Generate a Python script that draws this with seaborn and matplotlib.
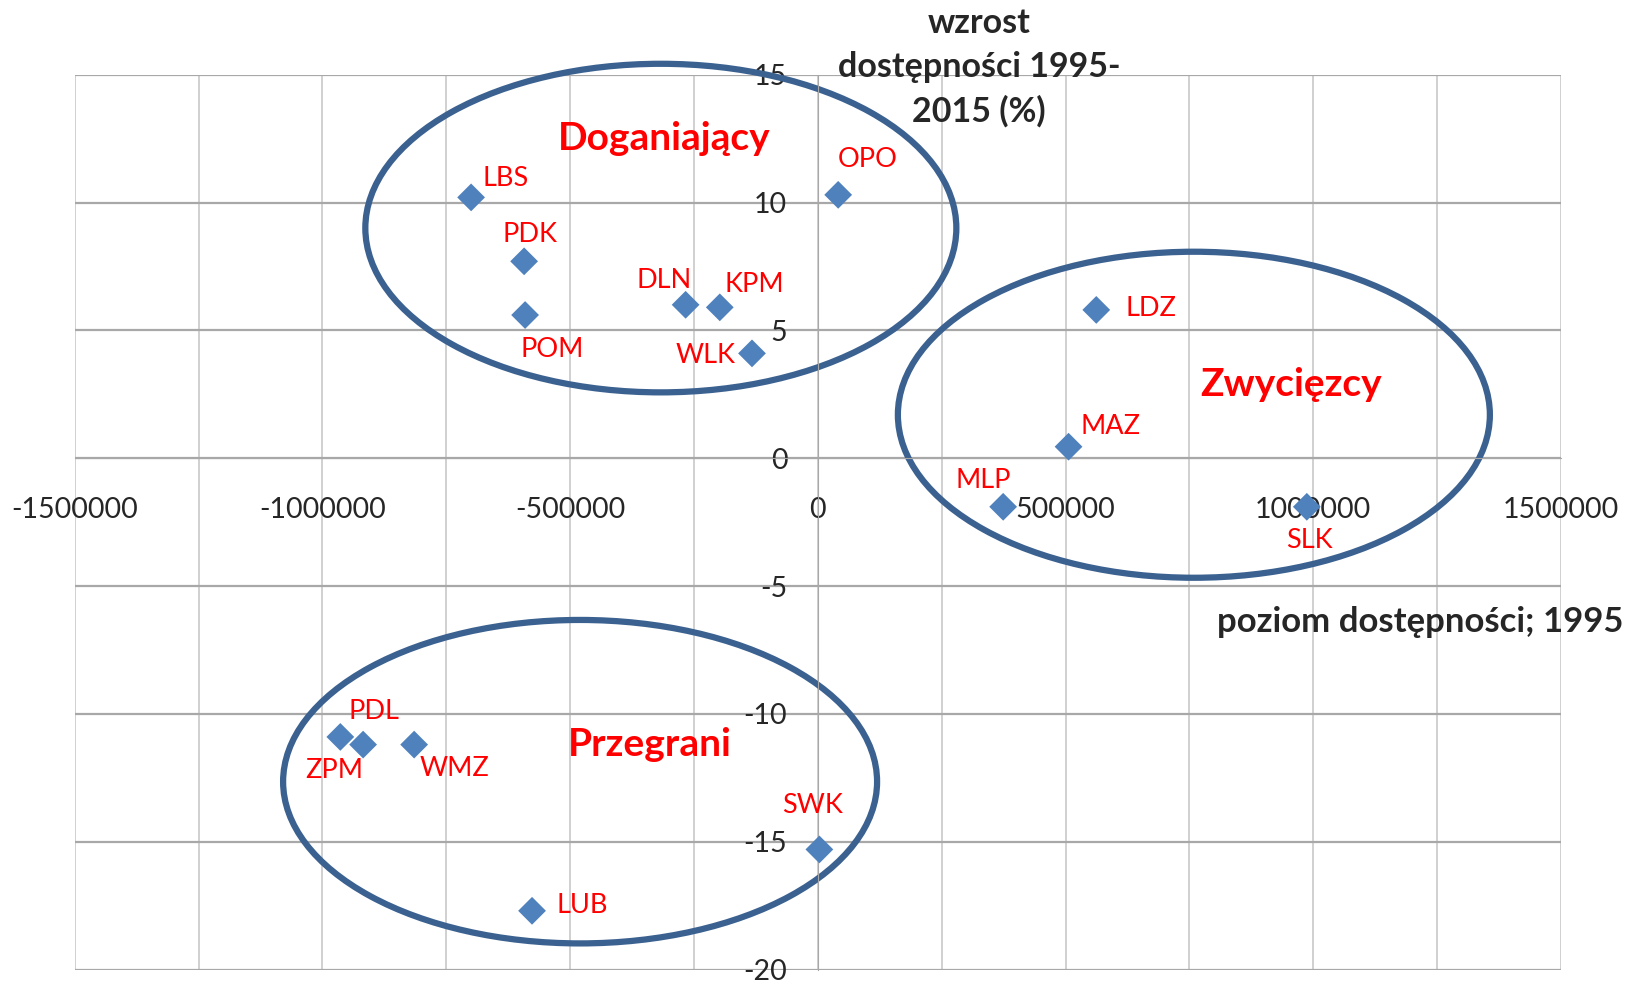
import numpy as np
import pandas as pd
import matplotlib
matplotlib.use("Agg")
import matplotlib.pyplot as plt
import seaborn as sns
from matplotlib.patches import Ellipse

# dane: województwa
regiony = ['LBS', 'PDK', 'POM', 'DLN', 'KPM', 'WLK', 'OPO', 'LDZ', 'MAZ', 'MLP',
           'SLK', 'ZPM', 'PDL', 'WMZ', 'LUB', 'SWK']
poziom_1995 = [-700000, -593000, -591000, -267000, -198000, -133000, 41000, 562000,
               506000, 374000, 987000, -964000, -918000, -815000, -577000, 3000]
wzrost = [10.2, 7.7, 5.6, 6.0, 5.9, 4.1, 10.3, 5.8, 0.45, -1.9, -1.9, -10.9,
          -11.2, -11.2, -17.7, -15.3]

# grupy (elipsy): nazwa, środek x, środek y, szerokość, wysokość
grupy = ['Doganiający', 'Zwycięzcy', 'Przegrani']
grupy_x = [-317000, 759000, -480000]
grupy_y = [9.0, 1.7, -12.65]
grupy_w = [1193000, 1195000, 1199000]
grupy_h = [12.85, 12.75, 12.65]
napis_x = [-311000, 956000, -339000]
napis_y = [12.5, 2.9, -11.2]

# przesunięcia etykiet (punkty)
offsety = [(24.6, 13.4), (4.5, 19.4), (19.4, -24.6), (-15.7, 17.2), (24.6, 16.4),
           (-33.6, -1.5), (20.9, 25.4), (39.6, 0.7), (29.9, 14.2), (-14.2, 18.7),
           (1.5, -24.6), (-4.5, -23.9), (7.5, 23.9), (29.1, -17.2), (35.9, 3.7),
           (-5.2, 31.4)]

df = pd.DataFrame({'region': regiony, 'x': poziom_1995, 'y': wzrost})

sns.set_style('white')
plt.rcParams['font.family'] = ['Lato', 'DejaVu Sans']
plt.rcParams['axes.unicode_minus'] = False

fig = plt.figure(figsize=(16.26, 9.81), dpi=100)
ax = fig.add_axes([0.046, 0.0116, 0.914, 0.9123])

sns.scatterplot(data=df, x='x', y='y', marker='D', s=200, color='#4f81bd',
                edgecolor='none', ax=ax, zorder=3)

for r, x, y, off in zip(regiony, poziom_1995, wzrost, offsety):
    ax.annotate(r, (x, y), xytext=off, textcoords='offset points', ha='center',
                va='center', color='#ff0000', fontsize=19.5, zorder=4)

for g, cx, cy, w, h, tx, ty in zip(grupy, grupy_x, grupy_y, grupy_w, grupy_h, napis_x, napis_y):
    ax.add_patch(Ellipse((cx, cy), w, h, fill=False, edgecolor='#3b6190', lw=4.5,
                         zorder=2, clip_on=False))
    ax.text(tx, ty, g, color='#ff0000', fontsize=28, fontweight='bold', ha='center',
            va='center', zorder=4)

ax.set_xlim(-1500000, 1500000)
ax.set_ylim(-20, 15)
ax.set_xticks(np.arange(-1500000, 1500001, 250000), minor=True)
ax.set_xticks(np.arange(-1500000, 1500001, 500000))
ax.set_yticks(np.arange(-20, 16, 5))
ax.xaxis.set_major_formatter(matplotlib.ticker.FuncFormatter(lambda v, p: f'{int(v)}'))
ax.grid(which='both', axis='x', color='#c4c4c4', lw=1.1)
ax.grid(which='major', axis='y', color='#a8a8a8', lw=1.6)
ax.set_axisbelow(True)
for s in ['top', 'right']:
    ax.spines[s].set_visible(False)
ax.spines['left'].set_position(('data', 0))
ax.spines['bottom'].set_position(('data', 0))
ax.spines['left'].set_color('#a8a8a8')
ax.spines['bottom'].set_color('#a8a8a8')
ax.tick_params(axis='x', which='both', length=0, pad=28, labelsize=20.5)
ax.tick_params(axis='y', length=0, pad=22, labelsize=20.5)
ax.set_xlabel('')
ax.set_ylabel('')

fig.text(979 / 1626, 1 - 67 / 981, 'wzrost\ndostępności 1995-\n2015 (%)', ha='center',
         va='center', fontsize=24.5, fontweight='bold', linespacing=1.45)
fig.text(1623 / 1626, 1 - 622 / 981, 'poziom dostępności; 1995', ha='right',
         va='center', fontsize=25, fontweight='bold')

fig.savefig('out.png', dpi=100)
